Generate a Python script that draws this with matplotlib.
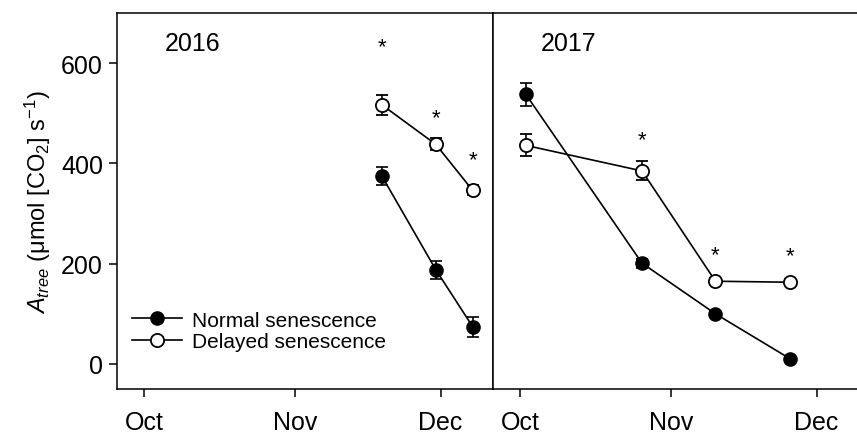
import numpy as np
import matplotlib
matplotlib.use('Agg')
import matplotlib.pyplot as plt
from matplotlib.lines import Line2D

plt.rcParams['font.family'] = ['Liberation Sans', 'DejaVu Sans']
plt.rcParams['mathtext.fontset'] = 'custom'
plt.rcParams['mathtext.rm'] = 'Liberation Sans'
plt.rcParams['mathtext.it'] = 'Liberation Sans:italic'

# days since 1 Oct
month_ticks = [0, 31, 61]
month_labels = ['Oct', 'Nov', 'Dec']

# 2016
d16 = [48.9, 60.0, 67.6]
normal16 = [375, 188, 74]
normal16_err = [18, 18, 20]
delayed16 = [517, 438, 346]
delayed16_err = [20, 12, 10]
star16 = [633, 492, 408]

# 2017
d17 = [1.2, 25.1, 40.2, 55.6]
normal17 = [538, 201, 100, 10]
normal17_err = [23, 9, 6, 5]
delayed17 = [436, 385, 165, 163]
delayed17_err = [22, 19, 6, 6]
star17 = [None, 448, 218, 216]

fig = plt.figure(figsize=(8.57, 4.35), dpi=100)
ax1 = fig.add_axes([0.1365, 0.1034, 0.4387, 0.8644])
ax2 = fig.add_axes([0.5752, 0.1034, 0.4387, 0.8644])

def panel(ax, x, n, ne, d, de, stars, year):
    ax.errorbar(x, n, yerr=ne, fmt='-o', color='black', mfc='black', mec='black',
                ms=9.5, lw=1.2, elinewidth=1.2, capsize=4, capthick=1.2, zorder=3)
    ax.errorbar(x, d, yerr=de, fmt='-o', color='black', mfc='white', mec='black',
                ms=9.5, mew=1.3, lw=1.2, elinewidth=1.2, capsize=4, capthick=1.2, zorder=3)
    for xi, s in zip(x, stars):
        if s is not None:
            ax.text(xi, s, '*', ha='center', va='center', fontsize=16)
    ax.set_xlim(-5.55, 71.75)
    ax.set_ylim(-50, 700)
    ax.set_xticks(month_ticks)
    ax.set_xticklabels(month_labels, fontsize=18)
    ax.tick_params(axis='x', direction='out', length=6, width=1.1, pad=9)
    ax.text(0.2, 0.92, year, transform=ax.transAxes, ha='center', va='center', fontsize=18)
    for sp in ax.spines.values():
        sp.set_linewidth(1.1)

panel(ax1, d16, normal16, normal16_err, delayed16, delayed16_err, star16, '2016')
panel(ax2, d17, normal17, normal17_err, delayed17, delayed17_err, star17, '2017')

ax1.set_yticks([0, 200, 400, 600])
ax1.tick_params(axis='y', direction='out', length=6, width=1.1, labelsize=18, pad=4)
ax1.set_ylabel(r'$\mathit{A}_{\mathit{tree}}$ ($\mathrm{\mu}$mol [CO$_2$] s$^{-1}$)', fontsize=17, labelpad=6)
ax2.set_yticks([])

handles = [Line2D([], [], color='black', marker='o', mfc='black', mec='black', ms=9.5, lw=1.2),
           Line2D([], [], color='black', marker='o', mfc='white', mec='black', ms=9.5, mew=1.3, lw=1.2)]
ax1.legend(handles, ['Normal senescence', 'Delayed senescence'], loc='lower left',
           bbox_to_anchor=(0.0, 0.062), frameon=False, fontsize=15,
           handlelength=2.4, handletextpad=0.5, labelspacing=0.12, borderaxespad=0.3)

fig.savefig('out.png', dpi=100)
